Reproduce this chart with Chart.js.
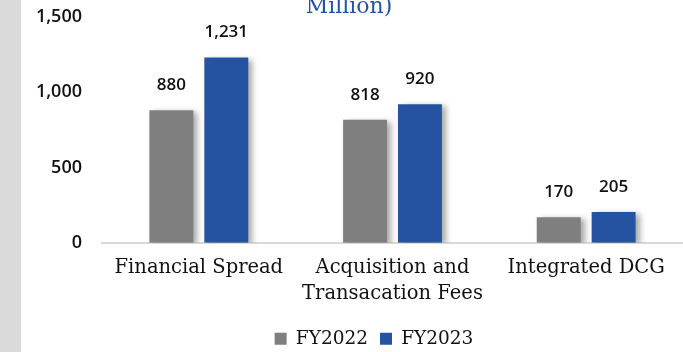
<!DOCTYPE html>
<html>
<head>
<meta charset="utf-8">
<script src="https://cdn.jsdelivr.net/npm/chart.js@4/dist/chart.umd.min.js"></script>
<style>
  html, body { margin: 0; padding: 0; background: #ffffff; }
  #wrap { width: 683px; height: 352px; position: relative; }
</style>
</head>
<body>
<div id="wrap"><canvas id="c"></canvas></div>
<script>
// Revenue components, FY2022 vs FY2023
const categories = ["Financial Spread", ["Acquisition and", "Transacation Fees"], "Integrated DCG"];
const fy2022 = [880, 818, 170];
const fy2023 = [1231, 920, 205];
const seriesNames = ["FY2022", "FY2023"];
const yTicks = [0, 500, 1000, 1500];
const titleText = "Million)";

const GRAY = "#7f7f7f";
const BLUE = "#2553a2";
const SERIF = "'DejaVu Serif', serif";
const SANS = "'Open Sans', sans-serif";

// light band on the left edge + white background
const backdrop = {
  id: "backdrop",
  beforeDraw(chart) {
    const { ctx, width, height } = chart;
    ctx.save();
    ctx.fillStyle = "#ffffff";
    ctx.fillRect(0, 0, width, height);
    ctx.fillStyle = "#dadada";
    ctx.fillRect(0, 0, 21, height);
    ctx.restore();
  }
};

// nudge the legend row a little to the right and down
const legendShift = {
  id: "legendShift",
  afterLayout(chart) {
    if (chart.legend) {
      chart.legend.left += 16;
      chart.legend.right += 16;
      chart.legend.top += 6;
      chart.legend.bottom += 6;
    }
  }
};

// soft drop shadow behind the bars
const barShadow = {
  id: "barShadow",
  beforeDatasetsDraw(chart) {
    const ctx = chart.ctx;
    ctx.save();
    ctx.shadowColor = "rgba(0,0,0,0.35)";
    ctx.shadowBlur = 6;
    ctx.shadowOffsetX = 4;
    ctx.shadowOffsetY = 2;
  },
  afterDatasetsDraw(chart) {
    chart.ctx.restore();
  }
};

// value labels above each bar and the partial heading
const valueLabels = {
  id: "valueLabels",
  afterDatasetsDraw(chart) {
    const ctx = chart.ctx;
    ctx.save();
    ctx.font = "600 17px " + SANS;
    ctx.fillStyle = "#111111";
    ctx.textAlign = "center";
    ctx.textBaseline = "middle";
    chart.data.datasets.forEach((ds, i) => {
      const meta = chart.getDatasetMeta(i);
      meta.data.forEach((bar, j) => {
        const v = ds.data[j];
        ctx.fillText(v.toLocaleString("en-US"), bar.x, bar.y - 25);
      });
    });
    ctx.font = "22px " + SERIF;
    ctx.fillStyle = BLUE;
    ctx.textAlign = "center";
    ctx.textBaseline = "alphabetic";
    ctx.fillText(titleText, 349, 13);
    ctx.restore();
  }
};

new Chart(document.getElementById("c"), {
  type: "bar",
  data: {
    labels: categories,
    datasets: [
      { label: seriesNames[0], data: fy2022, backgroundColor: GRAY },
      { label: seriesNames[1], data: fy2023, backgroundColor: BLUE }
    ]
  },
  options: {
    responsive: true,
    maintainAspectRatio: false,
    animation: false,
    layout: { padding: { left: 33, right: 0, top: 17, bottom: 0 } },
    datasets: { bar: { categoryPercentage: 0.567, barPercentage: 0.8 } },
    plugins: {
      legend: {
        position: "bottom",
        labels: {
          boxWidth: 12,
          boxHeight: 12,
          padding: 12,
          color: "#111111",
          font: { family: SERIF, size: 18.5 }
        }
      },
      tooltip: { enabled: false }
    },
    scales: {
      x: {
        grid: { display: false },
        border: { display: true, color: "#d9d9d9", width: 2 },
        ticks: {
          color: "#111111",
          font: { family: SERIF, size: 19.5, lineHeight: 1.35 },
          padding: 4,
          maxRotation: 0,
          autoSkip: false
        }
      },
      y: {
        min: 0,
        max: 1500,
        grid: { display: false, drawTicks: true, tickLength: 20 },
        border: { display: false },
        afterBuildTicks(axis) { axis.ticks = yTicks.map(v => ({ value: v })); },
        afterFit(axis) { axis.width = 69; },
        ticks: {
          color: "#111111",
          padding: 0,
          font: { family: SANS, size: 18, weight: "600" },
          callback: v => v.toLocaleString("en-US")
        }
      }
    }
  },
  plugins: [backdrop, legendShift, barShadow, valueLabels]
});
</script>
</body>
</html>
